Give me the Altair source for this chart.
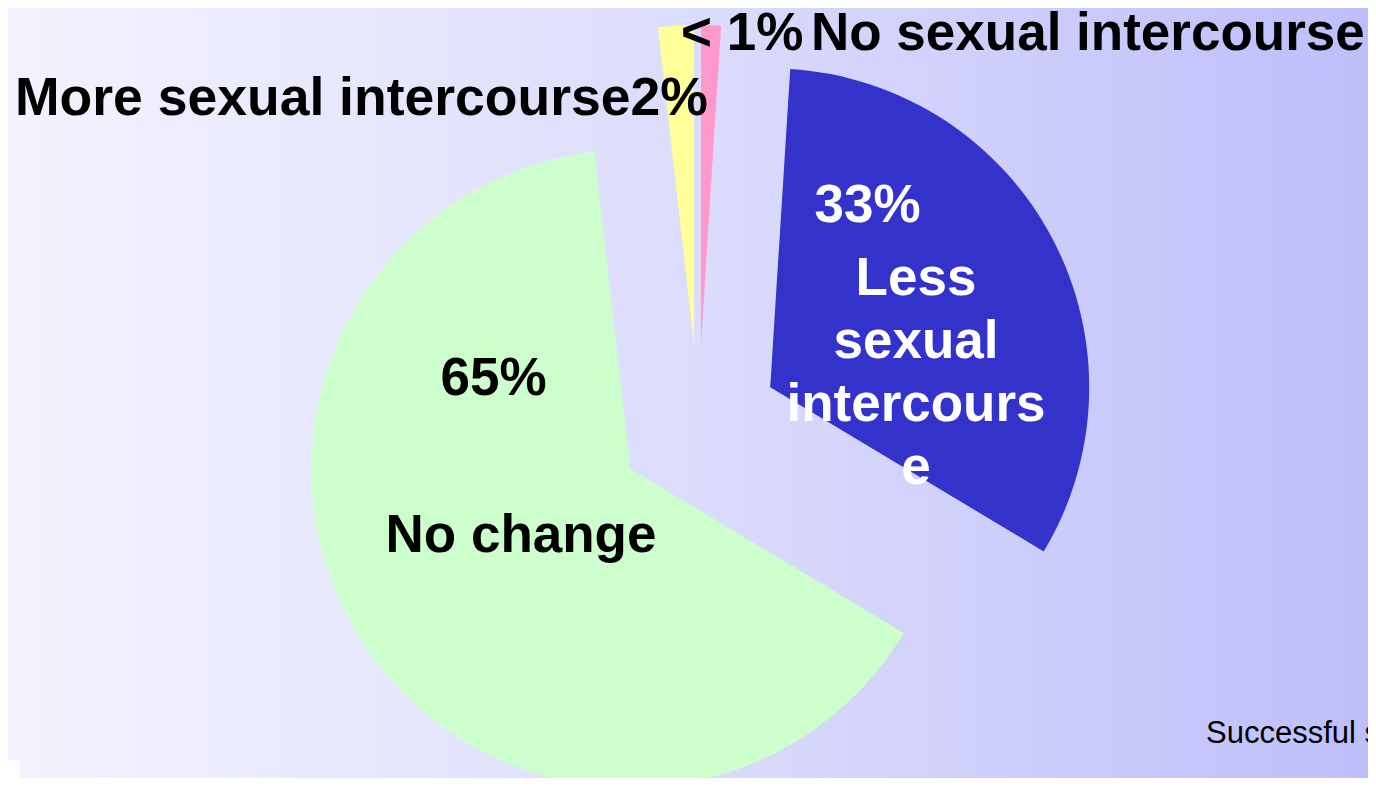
import altair as alt
import pandas as pd

# ---- data ----
categories = ["No sexual intercourse", "Less sexual intercourse", "No change", "More sexual intercourse"]
values = [1.0, 32.6, 64.6, 1.8]          # share of the pie
pct_labels = ["< 1%", "33%", "65%", "2%"]
slice_colors = ["#FF99CC", "#3333CC", "#CCFFCC", "#FFFF99"]
footnote = "Successful s"

# ---- layout ----
W, H = 1360, 770
CX, CY = 690.5, 417.0      # pie centre (pixels)
R = 319                     # pie radius
D = 81                      # explosion distance
FONT = "Liberation Sans"
FS = 53

df = pd.DataFrame({"category": categories, "value": values, "order": list(range(len(categories)))})

bg = alt.Chart(alt.Data(values=[{}])).mark_rect(
    color=alt.LinearGradient(
        gradient="linear",
        stops=[alt.GradientStop(color="#F3F3FF", offset=0),
               alt.GradientStop(color="#DCDCFC", offset=0.5),
               alt.GradientStop(color="#BEBEFB", offset=1)],
        x1=0, x2=1, y1=0, y2=0),
    strokeWidth=0,
).encode(x=alt.value(0), x2=alt.value(W), y=alt.value(0), y2=alt.value(H))

corner = alt.Chart(alt.Data(values=[{}])).mark_rect(color="white").encode(
    x=alt.value(0), x2=alt.value(12), y=alt.value(752), y2=alt.value(H))

pie = alt.Chart(df).transform_window(
    cum="sum(value)", sort=[alt.SortField("order")]
).transform_joinaggregate(
    total="sum(value)"
).transform_calculate(
    t0="2*PI*(datum.cum - datum.value)/datum.total",
    t1="2*PI*datum.cum/datum.total",
).transform_calculate(
    mid="(datum.t0 + datum.t1)/2"
).transform_calculate(
    cx=f"{CX} + {D}*sin(datum.mid)",
    cy=f"{CY} - {D}*cos(datum.mid)",
).mark_arc(radius=R, strokeWidth=0).encode(
    theta=alt.Theta("t0:Q", scale=None),
    theta2="t1:Q",
    x=alt.X("cx:Q", scale=None, axis=None),
    y=alt.Y("cy:Q", scale=None, axis=None),
    color=alt.Color("category:N", scale=alt.Scale(domain=categories, range=slice_colors), legend=None),
)


def label(text, x, y, align="left", color="black", size=FS, weight="bold", line_height=None):
    kw = dict(align=align, baseline="alphabetic", font=FONT, fontSize=size,
              fontWeight=weight, color=color)
    if line_height is not None:
        kw["lineHeight"] = line_height
    return alt.Chart(alt.Data(values=[{}])).mark_text(**kw).encode(
        x=alt.value(x), y=alt.value(y), text=alt.value(text))


texts = [
    label(pct_labels[0], 673, 42),
    label(categories[0], 803, 42),
    label(categories[3] + pct_labels[3], 7, 107, size=53.5),
    label(pct_labels[1], 859.5, 214, align="center", color="white"),
    label(["Less", "sexual", "intercours", "e"], 908, 287, align="center", color="white", line_height=63),
    label(pct_labels[2], 485.5, 387, align="center"),
    label(categories[2], 513, 544, align="center"),
    label(footnote, 1198, 735, size=31, weight="normal"),
]

chart = alt.layer(bg, corner, pie, *texts).properties(
    width=W, height=H, padding=0, autosize=alt.AutoSizeParams(type="none"),
).configure_view(strokeWidth=0).configure(background="white")

chart.save("out.html", embed_options={"renderer": "svg", "actions": False})
